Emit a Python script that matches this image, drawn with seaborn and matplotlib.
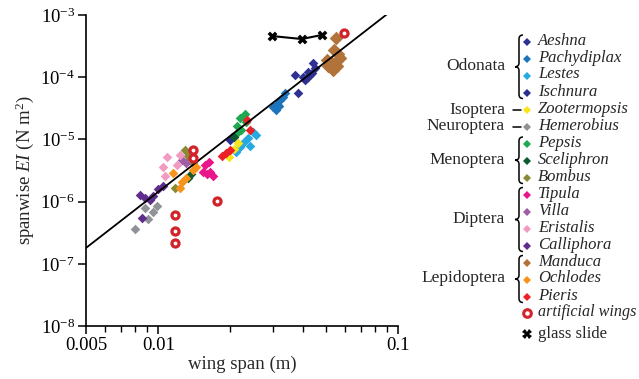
import numpy as np
import pandas as pd
import matplotlib
matplotlib.use("Agg")
import matplotlib.pyplot as plt
import seaborn as sns
from matplotlib.lines import Line2D
from matplotlib.path import Path
from matplotlib.patches import PathPatch
from matplotlib.ticker import FixedLocator, NullLocator, LogLocator, FixedFormatter

# ---------------- data ----------------
species = ["Aeshna", "Pachydiplax", "Lestes", "Ischnura", "Zootermopsis", "Hemerobius",
           "Pepsis", "Sceliphron", "Bombus", "Tipula", "Villa", "Eristalis", "Calliphora",
           "Manduca", "Ochlodes", "Pieris"]

aeshna_x = [0.0371, 0.0382, 0.0441, 0.0421, 0.0417, 0.0437, 0.0450, 0.0429, 0.0409, 0.0401]
aeshna_y = [1.08e-4, 5.6e-5, 1.69e-4, 1.21e-4, 9.7e-5, 1.17e-4, 1.41e-4, 1.08e-4, 9.0e-5, 1.0e-4]
pachy_x = [0.0337, 0.0331, 0.0322, 0.0313, 0.0301, 0.0310, 0.0319]
pachy_y = [5.6e-5, 4.8e-5, 4.3e-5, 3.7e-5, 3.3e-5, 3.0e-5, 3.4e-5]
lestes_x = [0.0248, 0.0255, 0.0237, 0.0228, 0.0241, 0.0219, 0.0211]
lestes_y = [1.32e-5, 1.18e-5, 1.05e-5, 9.1e-6, 7.8e-6, 7.6e-6, 6.3e-6]
ischnura_x = [0.0199, 0.0204]
ischnura_y = [9.8e-6, 1.08e-5]
zoot_x = [0.0215, 0.0207, 0.0197]
zoot_y = [8.8e-6, 7.0e-6, 5.2e-6]
hemer_x = [0.00881, 0.00951, 0.00907, 0.0080, 0.00988]
hemer_y = [7.9e-7, 6.8e-7, 5.25e-7, 3.62e-7, 8.5e-7]
pepsis_x = [0.0230, 0.0219, 0.0232, 0.0213, 0.0221, 0.0211]
pepsis_y = [2.56e-5, 2.21e-5, 1.90e-5, 1.64e-5, 1.42e-5, 1.22e-5]
scel_x = [0.0133, 0.0137, 0.0207]
scel_y = [2.39e-6, 2.78e-6, 1.09e-5]
bombus_x = [0.01293, 0.0133, 0.01174, 0.01396]
bombus_y = [6.8e-6, 5.4e-6, 1.66e-6, 4.18e-6]
tipula_x = [0.01566, 0.01627, 0.01643, 0.0169, 0.01537, 0.01596]
tipula_y = [3.87e-6, 4.34e-6, 2.99e-6, 2.58e-6, 2.99e-6, 2.78e-6]
villa_x = [0.01305, 0.01256]
villa_y = [4.18e-6, 4.67e-6]
eristalis_x = [0.01088, 0.01047, 0.01197, 0.01232, 0.01067]
eristalis_y = [5.21e-6, 3.6e-6, 3.87e-6, 5.6e-6, 2.58e-6]
calli_x = [0.00839, 0.00881, 0.00924, 0.00951, 0.00855, 0.00998, 0.01047]
calli_y = [1.28e-6, 1.14e-6, 1.06e-6, 1.23e-6, 5.44e-7, 1.59e-6, 1.78e-6]
manduca_x = [0.0550, 0.0540, 0.0561, 0.0505, 0.0530, 0.0556, 0.0535, 0.0510, 0.0572]
manduca_y = [4.27e-4, 2.74e-4, 2.36e-4, 1.89e-4, 1.69e-4, 1.51e-4, 1.31e-4, 1.51e-4, 2.04e-4]
ochlodes_x = [0.01152, 0.01256, 0.01232, 0.01396, 0.01437, 0.01305]
ochlodes_y = [2.88e-6, 2.07e-6, 1.66e-6, 3.22e-6, 3.6e-6, 2.39e-6]
pieris_x = [0.0234, 0.0241, 0.0199, 0.0192, 0.0184]
pieris_y = [2.05e-5, 1.42e-5, 6.8e-6, 6.0e-6, 5.4e-6]

artificial_x = [0.01396, 0.01396, 0.01757, 0.01174, 0.01174, 0.01174, 0.0594]
artificial_y = [6.76e-6, 5.02e-6, 1.02e-6, 6.1e-7, 3.37e-7, 2.16e-7, 5.14e-4]
glass_x = [0.0298, 0.0397, 0.0481]
glass_y = [4.59e-4, 4.11e-4, 4.77e-4]

fit_x = [0.005, 0.096]
fit_y = [1.8e-7, 1.25e-3]

orders = ["Odonata", "Isoptera", "Neuroptera", "Menoptera", "Diptera", "Lepidoptera"]
order_members = [4, 1, 1, 3, 4, 3]

x_ticks = [0.005, 0.01, 0.1]
x_tick_labels = ["0.005", "0.01", "0.1"]

# ---------------- styling ----------------
colors = {
    "Aeshna": "#2e3192", "Pachydiplax": "#1c75bc", "Lestes": "#27aae1",
    "Ischnura": "#2b2f8f", "Zootermopsis": "#f7e51d", "Hemerobius": "#8f9296",
    "Pepsis": "#1fa84f", "Sceliphron": "#0e5a30", "Bombus": "#8a8a35",
    "Tipula": "#e8168a", "Villa": "#a05ea6", "Eristalis": "#f29bc2",
    "Calliphora": "#5f2d8c", "Manduca": "#b2733a", "Ochlodes": "#f7941d",
    "Pieris": "#ec2027",
}
series = {
    "Aeshna": (aeshna_x, aeshna_y), "Pachydiplax": (pachy_x, pachy_y),
    "Lestes": (lestes_x, lestes_y), "Ischnura": (ischnura_x, ischnura_y),
    "Zootermopsis": (zoot_x, zoot_y), "Hemerobius": (hemer_x, hemer_y),
    "Pepsis": (pepsis_x, pepsis_y), "Sceliphron": (scel_x, scel_y),
    "Bombus": (bombus_x, bombus_y), "Tipula": (tipula_x, tipula_y),
    "Villa": (villa_x, villa_y), "Eristalis": (eristalis_x, eristalis_y),
    "Calliphora": (calli_x, calli_y), "Manduca": (manduca_x, manduca_y),
    "Ochlodes": (ochlodes_x, ochlodes_y), "Pieris": (pieris_x, pieris_y),
}
red = "#d2232a"

sns.set_theme(style="ticks")
plt.rcParams["font.family"] = ["Liberation Serif", "DejaVu Serif"]
plt.rcParams["mathtext.fontset"] = "custom"
plt.rcParams["mathtext.rm"] = "Liberation Serif"
plt.rcParams["mathtext.it"] = "Liberation Serif:italic"
plt.rcParams["mathtext.bf"] = "Liberation Serif:bold"

W, H = 639, 379
fig = plt.figure(figsize=(W / 100, H / 100), dpi=100)
ax = fig.add_axes([86 / W, 1 - 326 / H, (398 - 86) / W, (326 - 15) / H])

ax.set_xscale("log")
ax.set_yscale("log")

rows = []
for sp in species:
    xs, ys = series[sp]
    for xv, yv in zip(xs, ys):
        rows.append({"span": xv, "EI": yv, "species": sp})
df = pd.DataFrame(rows)

for sp in species:
    sub = df[df.species == sp]
    sns.scatterplot(data=sub, x="span", y="EI", ax=ax, color=colors[sp], marker="D",
                    s=48 if sp == "Manduca" else 24, linewidth=0, legend=False, zorder=3)

# fit line
sns.lineplot(x=fit_x, y=fit_y, ax=ax, color="black", linewidth=1.3, zorder=4)

# glass slide
sns.lineplot(x=glass_x, y=glass_y, ax=ax, color="black", linewidth=1.5, zorder=4)
sns.scatterplot(x=glass_x, y=glass_y, ax=ax, color="black", marker="X", s=50,
                linewidth=0, legend=False, zorder=5)

# artificial wings
sns.scatterplot(x=artificial_x, y=artificial_y, ax=ax, marker="o", s=26,
                facecolor="white", edgecolor=red, linewidth=2.3, legend=False, zorder=5)

ax.set_xlim(0.005, 0.1)
ax.set_ylim(1e-8, 1e-3)
ax.xaxis.set_major_locator(FixedLocator(x_ticks))
ax.xaxis.set_major_formatter(FixedFormatter(x_tick_labels))
ax.xaxis.set_minor_locator(FixedLocator([0.006, 0.007, 0.008, 0.009, 0.02, 0.03, 0.04,
                                          0.05, 0.06, 0.07, 0.08, 0.09]))
ax.yaxis.set_major_locator(LogLocator(base=10, numticks=10))
ax.yaxis.set_minor_locator(NullLocator())

for s in ["top", "right"]:
    ax.spines[s].set_visible(False)
for s in ["left", "bottom"]:
    ax.spines[s].set_linewidth(1.2)
    ax.spines[s].set_color("black")
ax.tick_params(axis="both", which="major", direction="out", length=6, width=1.1,
               labelsize=13.5, colors="black", pad=2)
ax.tick_params(axis="x", which="minor", direction="out", length=4, width=1.0, colors="black")
ax.set_xlabel("wing span (m)", fontsize=13.5, labelpad=1)
ax.set_ylabel("spanwise $EI$ (N m$^2$)", fontsize=13.5, labelpad=3)

# ---------------- custom legend ----------------
def fx(px):
    return px / W

def fy(py):
    return 1 - py / H

entry_y = [41, 58, 74.5, 91.5, 109, 126, 143, 160, 176.5, 193.5, 211, 228, 244.5,
           261.5, 278.5, 295.5]
mx, tx = 527, 538
for sp, yy in zip(species, entry_y):
    fig.add_artist(Line2D([fx(mx)], [fy(yy + 1)], marker="D", markersize=3.6,
                          color=colors[sp], markeredgewidth=0, linestyle="none"))
    fig.text(fx(tx), fy(yy), sp, fontsize=12, style="italic", va="center", ha="left")

# artificial wings / glass slide
fig.add_artist(Line2D([fx(mx)], [fy(313)], marker="o", markersize=5.5,
                      markerfacecolor="white", markeredgecolor=red, markeredgewidth=2.2,
                      linestyle="none"))
fig.text(fx(tx), fy(312.5), "artificial wings", fontsize=11.6, style="italic",
         va="center", ha="left")
fig.add_artist(Line2D([fx(mx)], [fy(334)], marker="X", markersize=6.5, color="black",
                      markeredgewidth=0, linestyle="none"))
fig.text(fx(tx), fy(334), "glass slide", fontsize=12, va="center", ha="left")


def brace(y_top, y_bot, x_tip=523, x_point=515, r=4):
    xm = (x_tip + x_point) / 2
    ym = (y_top + y_bot) / 2
    pts = [(x_tip, y_top), (xm, y_top), (xm, y_top + r),
           (xm, ym - r), (xm, ym), (x_point, ym),
           (xm, ym), (xm, ym + r),
           (xm, y_bot - r), (xm, y_bot), (x_tip, y_bot)]
    codes = [Path.MOVETO, Path.CURVE3, Path.CURVE3,
             Path.LINETO, Path.CURVE3, Path.CURVE3,
             Path.CURVE3, Path.CURVE3,
             Path.LINETO, Path.CURVE3, Path.CURVE3]
    verts = [(fx(a), fy(b)) for a, b in pts]
    fig.add_artist(PathPatch(Path(verts, codes), transform=fig.transFigure,
                             facecolor="none", edgecolor="black", linewidth=1.1))


idx = 0
for order, n in zip(orders, order_members):
    ys = entry_y[idx:idx + n]
    idx += n
    if n > 1:
        top, bot = ys[0] - 6, ys[-1] + 7
        brace(top, bot)
        ymid = (top + bot) / 2
    else:
        ymid = ys[0] + 1
        fig.add_artist(Line2D([fx(513), fx(521)], [fy(ymid), fy(ymid)], color="black",
                              linewidth=1.1))
    fig.text(fx(505), fy(ymid - 0.5), order, fontsize=12.5, va="center", ha="right")

fig.savefig("out.png", dpi=100)
